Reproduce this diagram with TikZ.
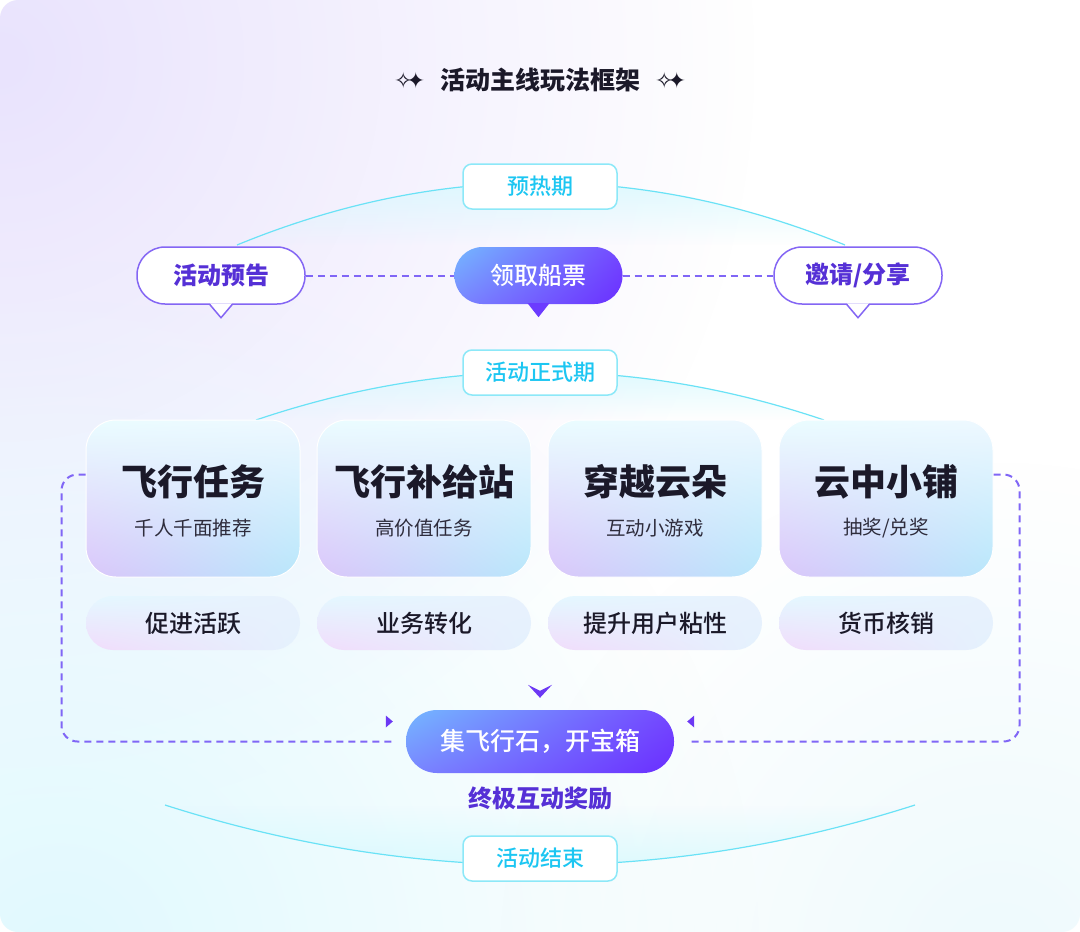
\documentclass[tikz,border=0pt]{standalone}
\usepackage{fontspec}
\newfontfamily\cjk{Noto Sans CJK SC}
\newfontfamily\cjkmed{Noto Sans CJK SC Medium}
\newfontfamily\dejavu{DejaVu Sans}
\usetikzlibrary{positioning,shadings,fadings}
\tikzfading[name=glow,inner color=transparent!0,outer color=transparent!100]
\definecolor{inkdark}{HTML}{1B1929}
\definecolor{subgray}{HTML}{2E2C3C}
\definecolor{tagcyan}{HTML}{1CC6F2}
\definecolor{tagline}{HTML}{8CE8F8}
\definecolor{arccyan}{HTML}{6AE2F6}
\definecolor{tintcyan}{HTML}{D6F9FE}
\definecolor{bubbleline}{HTML}{8466F4}
\definecolor{bubbletext}{HTML}{5530D6}
\definecolor{dashpurple}{HTML}{8066F6}
\definecolor{tippurple}{HTML}{6C38F4}
\definecolor{gradblue}{HTML}{74B8FF}
\definecolor{gradviolet}{HTML}{7A86FF}
\definecolor{gradpurple}{HTML}{6A2EFF}
\definecolor{gradpurpleb}{HTML}{7448FF}
\definecolor{bgviolet}{HTML}{E9E3FD}
\definecolor{bgcyan}{HTML}{E0F9FE}
\definecolor{bgcyanb}{HTML}{EEFAFD}
\definecolor{cardtl}{HTML}{EAFDFF}
\definecolor{cardtr}{HTML}{EEF8FF}
\definecolor{cardbl}{HTML}{DAC6FA}
\definecolor{cardbr}{HTML}{B8E7FB}
\definecolor{pilltl}{HTML}{E4F8FF}
\definecolor{pilltr}{HTML}{E8F1FD}
\definecolor{pillbl}{HTML}{F1DCFB}
\definecolor{pillbr}{HTML}{E4F2FD}

\begin{document}
\begin{tikzpicture}
[x=1pt,y=-1pt,
  tagbox/.style={draw=tagline,line width=1.5pt,fill=white,rounded corners=9,
    minimum width=154,minimum height=45,text=tagcyan,
    font=\cjkmed\fontsize{22}{24}\selectfont},%
  bubble/.style={draw=bubbleline,line width=1.5pt,fill=white,rounded corners=28,
    minimum width=168,minimum height=57,text=bubbletext,
    font=\cjk\bfseries\fontsize{24}{26}\selectfont},%
  ticketbubble/.style={rounded corners=28,minimum width=168,minimum height=57,
    upper left=gradblue,lower left=gradviolet,upper right=gradpurpleb,lower right=gradpurple,
    text=white,font=\cjkmed\fontsize{24}{26}\selectfont},%
  card/.style={draw=white,line width=1pt,rounded corners=30,minimum width=214,minimum height=157,
    upper left=cardtl,upper right=cardtr,lower left=cardbl,lower right=cardbr},%
  cardtitle/.style={text=inkdark,font=\cjk\bfseries\fontsize{36}{40}\selectfont},%
  cardsub/.style={text=subgray,font=\cjk\fontsize{19.5}{22}\selectfont},%
  goalpill/.style={rounded corners=27,minimum width=214,minimum height=54,
    upper left=pilltl,upper right=pilltr,lower left=pillbl,lower right=pillbr,
    text=inkdark,font=\cjkmed\fontsize{24}{26}\selectfont},%
  rewardpill/.style={rounded corners=31,minimum width=268,minimum height=63,
    upper left=gradblue,lower left=gradviolet,upper right=gradpurpleb,lower right=gradpurple,
    text=white,font=\cjkmed\fontsize{25}{28}\selectfont},%
  dashline/.style={draw=dashpurple,line width=2pt,dash pattern=on 7pt off 5pt},%
  loopline/.style={dashline,rounded corners=16},%
  arcline/.style={draw=arccyan,line width=1.2pt},%
  sparkle/.style={text=inkdark,font=\dejavu\fontsize{22}{24}\selectfont},%
  tipfill/.style={fill=tippurple}]
\useasboundingbox (0,0) rectangle (1080,932);
%% background
\fill[white] (0,0) rectangle (1080,932);
\begin{scope}
\clip[rounded corners=18] (0,0) rectangle (1080,932);
\fill[bgviolet,path fading=glow] (0,60) circle[radius=760];
\fill[bgcyan,path fading=glow] (60,960) circle[radius=700];
\fill[bgcyanb,path fading=glow] (1000,960) circle[radius=500];
\end{scope}
%% title
\node (title) at (540,80) [text=inkdark,font=\cjk\bfseries\fontsize{25}{28}\selectfont] {活动主线玩法框架};
\node (sparkleleft) [left=8pt of title,sparkle] {✧\kern-6pt✦};
\node (sparkleright) [right=8pt of title,sparkle] {✧\kern-6pt✦};
%% stage arcs
\fill[tintcyan,path fading=south] (237,245) .. controls (439,162) and (641,162) .. (845,245) -- cycle;
\draw[arcline] (237,245) .. controls (439,162) and (641,162) .. (845,245);
\fill[tintcyan,path fading=south] (256,420) .. controls (445,356) and (635,356) .. (824,420) -- cycle;
\draw[arcline] (256,420) .. controls (445,356) and (635,356) .. (824,420);
\fill[tintcyan,path fading=north] (165,805) .. controls (415,885) and (665,885) .. (915,805) -- cycle;
\draw[arcline] (165,805) .. controls (415,885) and (665,885) .. (915,805);
%% stage tags
\node (warmup) at (540,186.5) [tagbox] {预热期};
\node (formal) at (540,372.5) [tagbox] {活动正式期};
\node (ending) at (540,858.5) [tagbox] {活动结束};
%% warm-up bubbles
\node (notice) at (221,275.5) [bubble] {活动预告};
\node (ticket) at (538.5,275.5) [ticketbubble] {领取船票};
\node (invite) at (858,275.5) [bubble] {邀请/分享};
\foreach \b in {notice,invite}
{
  \fill[white] ([xshift=-11,yshift=1.5]\b.south) -- ++(11,14) -- ++(11,-14) -- cycle;
  \draw[bubbleline,line width=1.5pt,line join=round] ([xshift=-11]\b.south) -- ++(11,13) -- ++(11,-13);
}
\fill[gradpurple!85!gradviolet] ([xshift=-11,yshift=1]ticket.south) -- ++(11,14) -- ++(11,-14) -- cycle;
\draw[dashline] (notice) -- (ticket);
\draw[dashline] (ticket) -- (invite);
%% play cards
\foreach \name/\x/\title/\sub/\goal in {
  task/193/飞行任务/千人千面推荐/促进活跃, supply/424/飞行补给站/高价值任务/业务转化,
  cloud/655/穿越云朵/互动小游戏/提升用户粘性, shop/886/云中小铺/{抽奖/兑奖}/货币核销}
{
  \node (\name) at (\x,498.5) [card] {};
  \node (\name-title) at ([yshift=16.5]\name.center) [cardtitle] {\title};
  \node (\name-sub) at ([yshift=-29.5]\name.center) [cardsub] {\sub};
  \node (\name-goal) at (\x,623) [goalpill] {\goal};
}
%% reward
\node (reward) at (540,741.5) [rewardpill] {集飞行石，开宝箱};
\node (rewardnote) at (540,798) [text=bubbletext,font=\cjk\bfseries\fontsize{24}{26}\selectfont] {终极互动奖励};
\fill[tipfill] ([xshift=-12,yshift=25]reward.north) -- ++(12,6) -- ++(12,-6) -- ++(-12,13) -- cycle;
\fill[tipfill] ([xshift=-20,yshift=20]reward.west) ++(0,-6) -- ++(7,6) -- ++(-7,6) -- cycle;
\fill[tipfill] ([xshift=20,yshift=20]reward.east) ++(0,-6) -- ++(-7,6) -- ++(7,6) -- cycle;
%% loop connectors
\draw[loopline] ([yshift=24]task.west) -- ++(-24,0) |- ([xshift=-14]reward.west);
\draw[loopline] ([yshift=24]shop.east) -- ++(26,0) |- ([xshift=14]reward.east);
\end{tikzpicture}
\end{document}
